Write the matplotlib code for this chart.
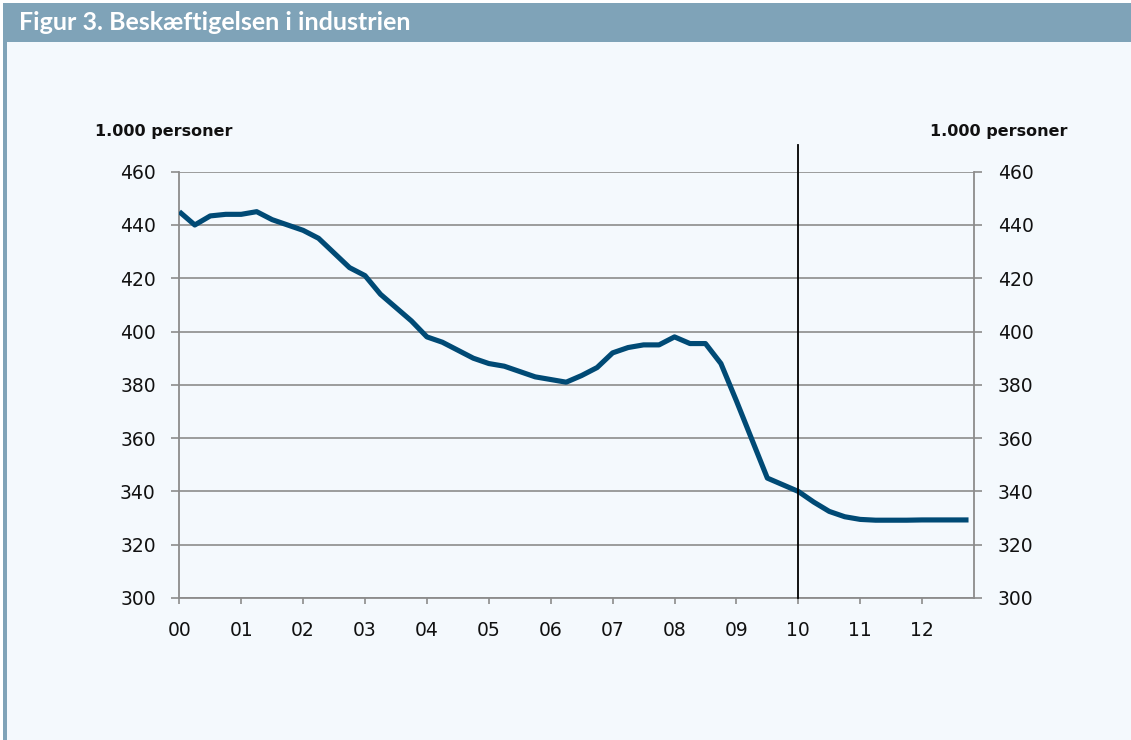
import matplotlib
matplotlib.use("Agg")
import matplotlib.pyplot as plt
from matplotlib.patches import Rectangle
from matplotlib.lines import Line2D
import numpy as np

# ---- data (quarterly, 2000Q1 - 2012Q4), 1.000 persons ----
values = [445, 440, 443.4, 444, 444, 445, 442, 440, 438, 435,
          429.5, 424, 421, 414, 409, 404, 398, 396, 393, 390,
          388, 387, 385, 383, 382, 381, 383.5, 386.5, 392, 394,
          395, 395, 398, 395.5, 395.5, 388, 374, 359.5, 345, 342.5,
          340, 336, 332.5, 330.5, 329.5, 329.2, 329.2, 329.2, 329.3, 329.3,
          329.3, 329.3]
years_from_2000 = np.arange(len(values)) / 4.0
xtick_labels = ["00", "01", "02", "03", "04", "05", "06", "07", "08", "09", "10", "11", "12"]
yticks = [300, 320, 340, 360, 380, 400, 420, 440, 460]
divider_year = 10
title = "Figur 3. Beskæftigelsen i industrien"
unit_label = "1.000 personer"

W, H = 1131, 740
bg = "#f4f9fd"
band = "#7fa3b8"
grid_c = "#8c8c8c"
line_c = "#004a75"

fig = plt.figure(figsize=(W / 100, H / 100), dpi=100)
fig.patch.set_facecolor("white")

# background panel, title band, left border
fig.add_artist(Rectangle((3 / W, 0), 1 - 3 / W, (H - 41.5) / H, transform=fig.transFigure,
                         facecolor=bg, edgecolor="none", zorder=0))
fig.add_artist(Rectangle((3 / W, (H - 41.5) / H), 1 - 3 / W, 38.5 / H, transform=fig.transFigure,
                         facecolor=band, edgecolor="none", zorder=1))
fig.add_artist(Rectangle((3 / W, 0), 4 / W, (H - 41.5) / H, transform=fig.transFigure,
                         facecolor=band, edgecolor="none", zorder=1))
fig.text(19 / W, 1 - 22.5 / H, title, color="white", fontsize=18, fontweight="bold",
         family=["Lato", "DejaVu Sans"], va="center", ha="left")

left, right, top, bottom = 179.3, 974, 171.7, 598
ax = fig.add_axes([left / W, 1 - bottom / H, (right - left) / W, (bottom - top) / H])
ax.set_facecolor("none")

ax.plot(years_from_2000, values, color=line_c, lw=3.7, solid_joinstyle="round",
        solid_capstyle="butt", zorder=3)

ax.set_xlim(0, (right - left) / 61.9)
ax.set_ylim(300, 460)
ax.set_yticks(yticks)
ax.set_yticklabels([str(v) for v in yticks])
ax.set_xticks(range(len(xtick_labels)))
ax.set_xticklabels(xtick_labels)

for y in yticks:
    ax.axhline(y, color=grid_c, lw=1.2, zorder=1)

for s in ["left", "right", "bottom"]:
    ax.spines[s].set_color(grid_c)
    ax.spines[s].set_linewidth(1.3)
ax.spines["top"].set_visible(False)

ax.tick_params(axis="y", which="both", left=True, right=True, labelleft=True, labelright=True,
               direction="out", length=5.5, width=1.2, color=grid_c, pad=11.5,
               labelsize=13.5, labelcolor="#111111")
ax.tick_params(axis="x", direction="out", length=4.5, width=1.2, color=grid_c, pad=12,
               labelsize=13.5, labelcolor="#111111")

# divider line at 2010 extending above the plot
ax.add_line(Line2D([divider_year, divider_year], [300, 470.2], color="black", lw=1.3,
                   clip_on=False, zorder=4))

fig.text(95 / W, 1 - 131.7 / H, unit_label, fontsize=11.5, fontweight="bold",
         color="#111111", ha="left", va="center")
fig.text(1067 / W, 1 - 131.7 / H, unit_label, fontsize=11.5, fontweight="bold",
         color="#111111", ha="right", va="center")

fig.savefig("out.png", dpi=100, facecolor=fig.get_facecolor())
